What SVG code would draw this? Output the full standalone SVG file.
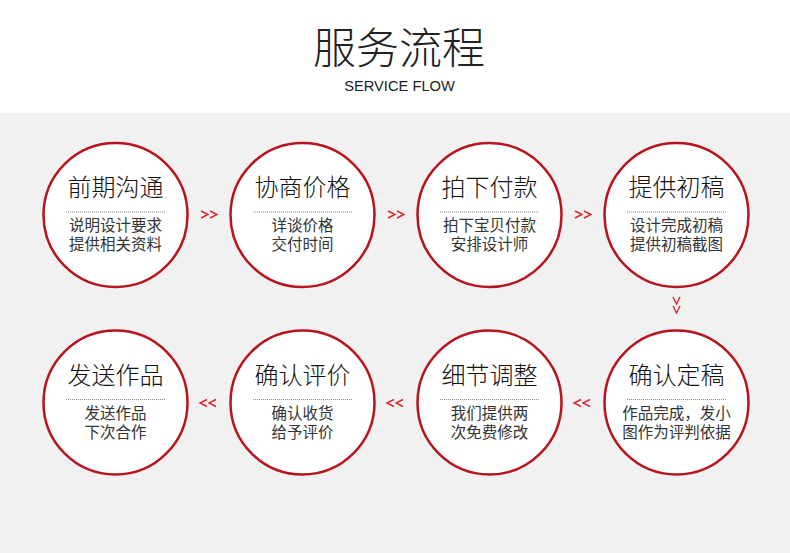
<svg xmlns="http://www.w3.org/2000/svg" width="790" height="553" viewBox="0 0 790 553">
<style>
.cjk{font-family:"Noto Sans CJK SC","Noto Sans",sans-serif;}
.ttl{font-size:24px;font-weight:300;fill:#111;text-anchor:middle;}
.sub{font-size:15.5px;fill:#333;text-anchor:middle;}
.ring{fill:#fff;stroke:#b8141e;stroke-width:2.5;}
.dot{stroke:#888;stroke-width:1;stroke-dasharray:1 1;}
.arr{fill:none;stroke:#d7262e;stroke-width:1.4;}
</style>
<rect x="0" y="0" width="790" height="113" fill="#fff"/>
<rect x="0" y="113" width="790" height="440" fill="#f1f1f1"/>
<text x="399" y="64" class="cjk" font-size="43" font-weight="300" fill="#222" text-anchor="middle">服务流程</text>
<text x="399.5" y="91" font-family="Liberation Sans, Arial, sans-serif" font-size="14.7" fill="#222" text-anchor="middle">SERVICE FLOW</text>
<g id="connectors">
<path class="arr" d="M201 211l7 3.5-7 3.5M210 211l7 3.5-7 3.5"/>
<path class="arr" d="M388 211l7 3.5-7 3.5M397 211l7 3.5-7 3.5"/>
<path class="arr" d="M575 211l7 3.5-7 3.5M584 211l7 3.5-7 3.5"/>
<path class="arr" d="M673 297l3.5 7 3.5-7M673 306l3.5 7 3.5-7"/>
<path class="arr" d="M590 399.5l-7 3.5 7 3.5M581 399.5l-7 3.5 7 3.5"/>
<path class="arr" d="M403 399.5l-7 3.5 7 3.5M394 399.5l-7 3.5 7 3.5"/>
<path class="arr" d="M216 399.5l-7 3.5 7 3.5M207 399.5l-7 3.5 7 3.5"/>
</g>
<g id="n1" class="cjk"><circle class="ring" cx="115.5" cy="215" r="72"/><text class="ttl" x="115.5" y="196">前期沟通</text><line class="dot" x1="66" y1="212" x2="166" y2="212"/><text class="sub" x="115.5" y="231">说明设计要求</text><text class="sub" x="115.5" y="250">提供相关资料</text></g>
<g id="n2" class="cjk"><circle class="ring" cx="302.5" cy="215" r="72"/><text class="ttl" x="302.5" y="196">协商价格</text><line class="dot" x1="253" y1="212" x2="353" y2="212"/><text class="sub" x="302.5" y="231">详谈价格</text><text class="sub" x="302.5" y="250">交付时间</text></g>
<g id="n3" class="cjk"><circle class="ring" cx="489.5" cy="215" r="72"/><text class="ttl" x="489.5" y="196">拍下付款</text><line class="dot" x1="440" y1="212" x2="540" y2="212"/><text class="sub" x="489.5" y="231">拍下宝贝付款</text><text class="sub" x="489.5" y="250">安排设计师</text></g>
<g id="n4" class="cjk"><circle class="ring" cx="676.5" cy="215" r="72"/><text class="ttl" x="676.5" y="196">提供初稿</text><line class="dot" x1="627" y1="212" x2="727" y2="212"/><text class="sub" x="676.5" y="231">设计完成初稿</text><text class="sub" x="676.5" y="250">提供初稿截图</text></g>
<g id="n5" class="cjk"><circle class="ring" cx="676.5" cy="402.5" r="72"/><text class="ttl" x="676.5" y="383.5">确认定稿</text><line class="dot" x1="627" y1="399.5" x2="727" y2="399.5"/><text class="sub" x="676.5" y="418.5">作品完成，发小</text><text class="sub" x="676.5" y="437.5">图作为评判依据</text></g>
<g id="n6" class="cjk"><circle class="ring" cx="489.5" cy="402.5" r="72"/><text class="ttl" x="489.5" y="383.5">细节调整</text><line class="dot" x1="440" y1="399.5" x2="540" y2="399.5"/><text class="sub" x="489.5" y="418.5">我们提供两</text><text class="sub" x="489.5" y="437.5">次免费修改</text></g>
<g id="n7" class="cjk"><circle class="ring" cx="302.5" cy="402.5" r="72"/><text class="ttl" x="302.5" y="383.5">确认评价</text><line class="dot" x1="253" y1="399.5" x2="353" y2="399.5"/><text class="sub" x="302.5" y="418.5">确认收货</text><text class="sub" x="302.5" y="437.5">给予评价</text></g>
<g id="n8" class="cjk"><circle class="ring" cx="115.5" cy="402.5" r="72"/><text class="ttl" x="115.5" y="383.5">发送作品</text><line class="dot" x1="66" y1="399.5" x2="166" y2="399.5"/><text class="sub" x="115.5" y="418.5">发送作品</text><text class="sub" x="115.5" y="437.5">下次合作</text></g>
</svg>
